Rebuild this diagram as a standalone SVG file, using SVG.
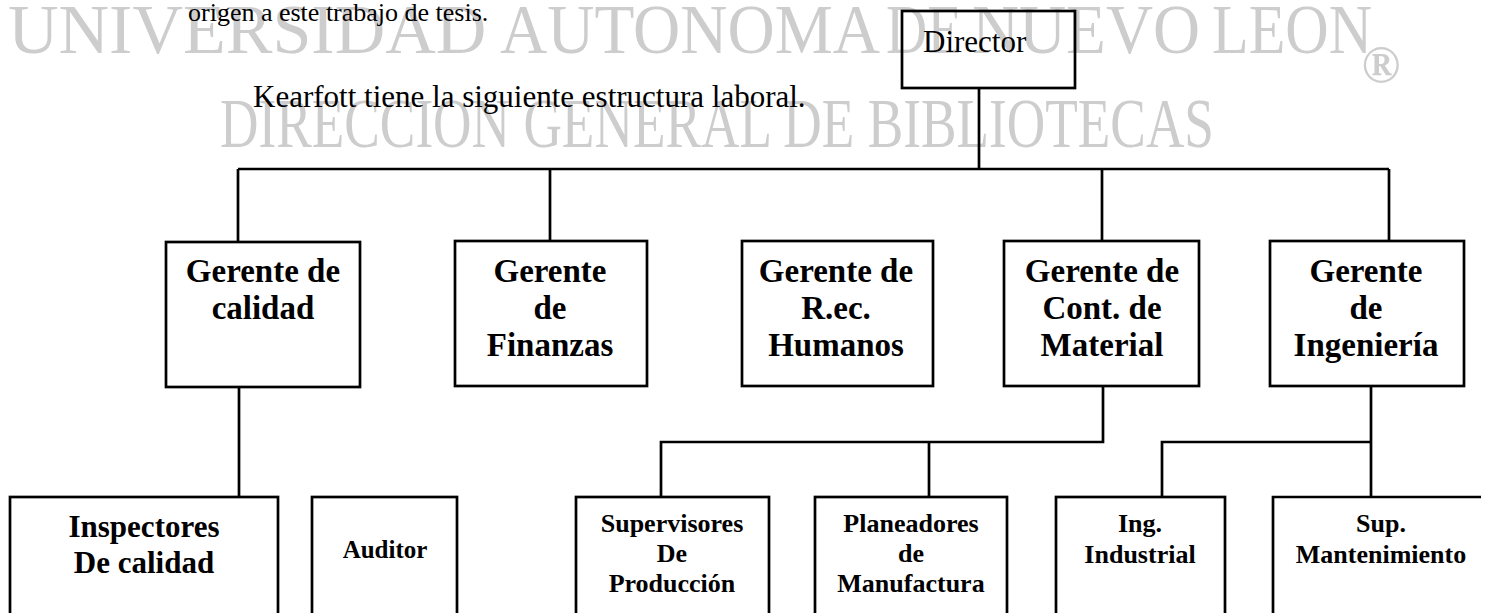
<svg xmlns="http://www.w3.org/2000/svg" width="1486" height="613" viewBox="0 0 1486 613">
<style>
.wm{font-family:"Liberation Serif","Times New Roman",serif;fill:#cdcdcd;font-size:70px}
.body{font-family:"Liberation Serif","Times New Roman",serif;font-size:31px;fill:#000}
.box{fill:none;stroke:#000;stroke-width:2.7}
.l2{font-family:"Liberation Serif","Times New Roman",serif;font-weight:bold;font-size:33px;fill:#000;text-anchor:middle}
.l3{font-family:"Liberation Serif","Times New Roman",serif;font-weight:bold;font-size:26px;fill:#000;text-anchor:middle}
.big{font-size:31px}
.aud{font-size:25px}
.small{font-size:26px}
.con{fill:none;stroke:#000;stroke-width:2.7}
</style>
<rect width="1486" height="613" fill="#fff"/>
<g id="watermark">
<text class="wm" y="53"><tspan x="8">UNIVERSIDAD</tspan><tspan x="500" textLength="380" lengthAdjust="spacingAndGlyphs">AUTONOMA</tspan><tspan x="886" textLength="76" lengthAdjust="spacingAndGlyphs">DE</tspan><tspan x="972" textLength="228" lengthAdjust="spacingAndGlyphs">NUEVO</tspan><tspan x="1212" textLength="160" lengthAdjust="spacingAndGlyphs">LEON</tspan></text>
<text class="wm" x="220" y="147" textLength="994" lengthAdjust="spacingAndGlyphs">DIRECCION GENERAL DE BIBLIOTECAS</text>
<text class="wm" x="1381" y="82" style="font-size:52px;font-weight:bold" text-anchor="middle">®</text>
</g>
<g id="intro">
<text class="body small" x="188" y="21">origen a este trabajo de tesis.</text>
<text class="body" x="253" y="107">Kearfott tiene la siguiente estructura laboral.</text>
</g>
<g id="connectors">
<path class="con" d="M979 88V169M238 169H1389M238 169V242M550 169V241M1102 169V241M1389 169V241"/>
<path class="con" d="M239 387V497"/>
<path class="con" d="M1103 386V442H661V497M929 442V497"/>
<path class="con" d="M1371 386V497M1371 442H1162V497"/>
</g>
<g id="director">
<rect class="box" x="902" y="11" width="173" height="77"/>
<text class="body" x="923" y="52">Director</text>
</g>
<g id="gerente-calidad">
<rect class="box" x="166" y="242" width="194" height="145"/>
<text class="l2" x="263" y="282">Gerente de</text>
<text class="l2" x="263" y="319">calidad</text>
</g>
<g id="gerente-finanzas">
<rect class="box" x="455" y="241" width="192" height="145"/>
<text class="l2" x="550" y="282">Gerente</text>
<text class="l2" x="550" y="319">de</text>
<text class="l2" x="550" y="356">Finanzas</text>
</g>
<g id="gerente-rh">
<rect class="box" x="742" y="241" width="191" height="145"/>
<text class="l2" x="836" y="282">Gerente de</text>
<text class="l2" x="836" y="319">R.ec.</text>
<text class="l2" x="836" y="356">Humanos</text>
</g>
<g id="gerente-material">
<rect class="box" x="1004" y="241" width="195" height="145"/>
<text class="l2" x="1102" y="282">Gerente de</text>
<text class="l2" x="1102" y="319">Cont. de</text>
<text class="l2" x="1102" y="356">Material</text>
</g>
<g id="gerente-ingenieria">
<rect class="box" x="1270" y="241" width="194" height="145"/>
<text class="l2" x="1366" y="282">Gerente</text>
<text class="l2" x="1366" y="319">de</text>
<text class="l2" x="1366" y="356">Ingeniería</text>
</g>
<g id="inspectores">
<rect class="box" x="10" y="497" width="268" height="160"/>
<text class="l3 big" x="144" y="537">Inspectores</text>
<text class="l3 big" x="144" y="573">De calidad</text>
</g>
<g id="auditor">
<rect class="box" x="312" y="497" width="145" height="160"/>
<text class="l3 aud" x="385" y="558">Auditor</text>
</g>
<g id="supervisores">
<rect class="box" x="576" y="497" width="193" height="160"/>
<text class="l3" x="672" y="532">Supervisores</text>
<text class="l3" x="672" y="562">De</text>
<text class="l3" x="672" y="592">Producción</text>
</g>
<g id="planeadores">
<rect class="box" x="815" y="497" width="192" height="160"/>
<text class="l3" x="911" y="532">Planeadores</text>
<text class="l3" x="911" y="562">de</text>
<text class="l3" x="911" y="592">Manufactura</text>
</g>
<g id="ing-industrial">
<rect class="box" x="1056" y="497" width="169" height="160"/>
<text class="l3" x="1140" y="532">Ing.</text>
<text class="l3" x="1140" y="563">Industrial</text>
</g>
<g id="sup-mantenimiento">
<path class="box" d="M1481 497H1273V640"/>
<text class="l3" x="1381" y="532">Sup.</text>
<text class="l3" x="1381" y="563">Mantenimiento</text>
</g>
</svg>
